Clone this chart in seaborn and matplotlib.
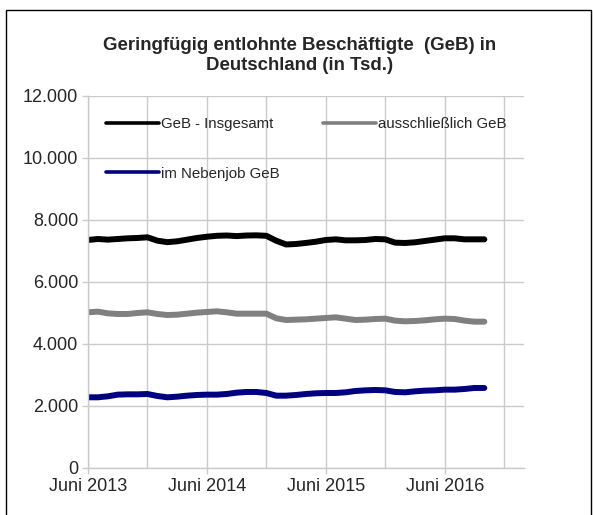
import numpy as np
import pandas as pd
import seaborn as sns
import matplotlib.pyplot as plt
from matplotlib.patches import Rectangle
from matplotlib.lines import Line2D
from matplotlib.ticker import FuncFormatter

# monthly values June 2013 - October 2016 (in Tsd.)
insgesamt = [7355, 7387, 7366, 7387, 7409, 7420, 7441, 7333, 7285, 7312,
             7366, 7420, 7460, 7490, 7500, 7480, 7500, 7505, 7490, 7330,
             7210, 7226, 7260, 7300, 7355, 7376, 7344, 7344, 7355, 7387,
             7376, 7269, 7258, 7280, 7323, 7366, 7409, 7409, 7376, 7376, 7376]
ausschl = [5022, 5043, 4989, 4968, 4968, 5000, 5022, 4968, 4935, 4946,
           4978, 5011, 5033, 5054, 5022, 4978, 4978, 4978, 4978, 4828,
           4774, 4785, 4796, 4817, 4839, 4860, 4817, 4774, 4785, 4806,
           4817, 4753, 4731, 4742, 4763, 4796, 4817, 4806, 4753, 4720, 4720]
nebenjob = [2280, 2280, 2312, 2366, 2376, 2376, 2387, 2323, 2280, 2301,
            2333, 2355, 2366, 2366, 2387, 2430, 2452, 2452, 2419, 2333,
            2333, 2355, 2387, 2409, 2419, 2419, 2441, 2484, 2505, 2516,
            2505, 2452, 2441, 2473, 2495, 2505, 2527, 2527, 2548, 2581, 2581]
tick_labels = ["Juni 2013", "Juni 2014", "Juni 2015", "Juni 2016"]

month = np.arange(len(insgesamt))

sns.set_style("white")
plt.rcParams['font.family'] = ['Liberation Sans', 'DejaVu Sans']

fig = plt.figure(figsize=(5.93, 5.15), dpi=100)
ax = fig.add_axes([0.1484, 0.0913, 0.7352, 0.7223])

grid_c = "#cbcbcb"
sns.lineplot(x=month, y=insgesamt, color="black", lw=4.3, ax=ax, solid_capstyle="round")
sns.lineplot(x=month, y=ausschl, color="#808080", lw=4.3, ax=ax, solid_capstyle="round")
sns.lineplot(x=month, y=nebenjob, color="#000080", lw=4.3, ax=ax, solid_capstyle="round")

ax.set_xlim(0, 44)
ax.set_ylim(0, 12000)
ax.set_xticks([0, 12, 24, 36])
ax.set_xticklabels(tick_labels)
ax.set_xticks([6, 18, 30, 42], minor=True)
ax.set_yticks(range(0, 12001, 2000))
ax.yaxis.set_major_formatter(FuncFormatter(lambda v, p: f"{int(v):,}".replace(",", ".")))
ax.grid(True, which="both", color=grid_c, lw=1.0)
ax.tick_params(axis="both", which="major", direction="out", length=4, width=1,
               color=grid_c, labelsize=13, pad=3, bottom=True, left=True)
ax.tick_params(axis="x", which="minor", length=0)
for s in ["top", "right"]:
    ax.spines[s].set_visible(False)
for s in ["left", "bottom"]:
    ax.spines[s].set_color(grid_c)
    ax.spines[s].set_linewidth(1.0)

# legend: row1 Insgesamt / ausschliesslich, row2 Nebenjob
h = [Line2D([], [], color="black", lw=2.6),
     Line2D([], [], color="#000080", lw=2.6),
     Line2D([], [], color="#808080", lw=2.6)]
labs = ["GeB - Insgesamt", "im Nebenjob GeB", "ausschließlich GeB"]
ax.legend(h, labs, ncol=2, frameon=False, fontsize=10.8, handlelength=3.5,
          handletextpad=0.15, labelspacing=2.35, columnspacing=2.9,
          loc="upper left", bbox_to_anchor=(0.018, 0.971), borderaxespad=0.3)

fig.text(0.506, 0.892, "Geringfügig entlohnte Beschäftigte  (GeB) in\nDeutschland (in Tsd.)",
         ha="center", va="center", fontsize=13.4, fontweight="bold", linespacing=1.2)

fig.patches.append(Rectangle((6 / 593, -0.1), 585 / 593, 1.1 - 10 / 515,
                             transform=fig.transFigure, fill=False, ec="black", lw=1.0))

fig.savefig("out.png", dpi=100)
